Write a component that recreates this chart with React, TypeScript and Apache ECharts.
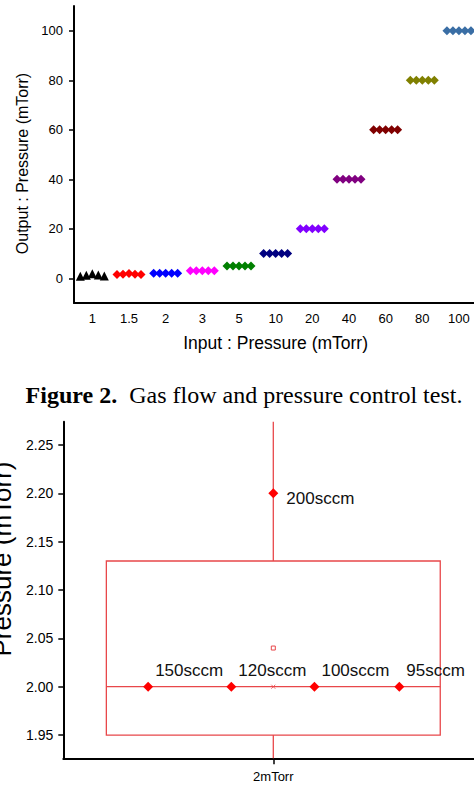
import React, { useEffect, useRef } from "react";
import * as echarts from "echarts";

// ---------- Top chart data ----------
const inputPressures = ["1", "1.5", "2", "3", "5", "10", "20", "40", "60", "80", "100"];
const outputReadings = [
  [0.8, 1.2, 1.8, 1.3, 0.9],
  [1.5, 1.6, 1.9, 1.6, 1.5],
  [2, 2, 2, 2, 2],
  [3, 3, 3, 3, 3],
  [5, 5, 5, 5, 5],
  [10, 10, 10, 10, 10],
  [20, 20, 20, 20, 20],
  [40, 40, 40, 40, 40],
  [60, 60, 60, 60, 60],
  [80, 80, 80, 80, 80],
  [100, 100, 100, 100, 100],
];
const inputColors = [
  "#000000", "#ff0000", "#0000ff", "#ff00ff", "#008000", "#000080",
  "#8000ff", "#800080", "#800000", "#808000", "#3a6ea5",
];
const topMajorTicks = [0, 20, 40, 60, 80, 100];
const topMinorTicks = [10, 30, 50, 70, 90];

// ---------- Bottom chart data ----------
const pressureSetting = ["2mTorr"];
const flowLabels = ["200sccm", "150sccm", "120sccm", "100sccm", "95sccm"];
const flowPressures = [2.2, 2.0, 2.0, 2.0, 2.0];
const flowJitter = [0, -0.298, -0.1, 0.098, 0.3];
// whisker low, box bottom, median, box top, whisker high
const boxStats = [1.9, 1.95, 2.0, 2.13, 2.3];
const meanPressure = 2.04;
const bottomMajorTicks = [1.95, 2.0, 2.05, 2.1, 2.15, 2.2, 2.25];
const bottomMinorTicks = [1.975, 2.025, 2.075, 2.125, 2.175, 2.225];

const SANS = "Arial, 'Liberation Sans', sans-serif";
const SERIF = "'Times New Roman', 'Liberation Serif', serif";
const BOX_RED = "#e8474a";

export default function App() {
  const ref = useRef<HTMLDivElement>(null);

  useEffect(() => {
    if (!ref.current) return;
    const chart = echarts.init(ref.current, undefined, { renderer: "svg" });

    const topSeries = outputReadings.map((vals, ci) => ({
      type: "scatter",
      name: inputPressures[ci],
      xAxisIndex: 0,
      yAxisIndex: 0,
      symbol: ci === 0 ? "triangle" : "diamond",
      symbolSize: [9, 9],
      itemStyle: { color: inputColors[ci], opacity: 1 },
      data: vals.map((v, k) => ({
        value: [ci, v],
        symbolOffset: [(k - 2) * 6, 0],
      })),
    }));

    const option: any = {
      animation: false,
      grid: [
        { left: 74, top: 6, right: -3.3, bottom: 497, containLabel: false, outerBoundsMode: "none" },
        { left: 63.3, top: 421.7, right: -9.3, bottom: 41.7, containLabel: false, outerBoundsMode: "none" },
      ],
      xAxis: [
        {
          type: "category",
          gridIndex: 0,
          data: inputPressures,
          boundaryGap: true,
          axisLine: { onZero: false, lineStyle: { color: "#000", width: 2 } },
          axisTick: { alignWithLabel: true, length: 5, lineStyle: { color: "#000", width: 1.5 } },
          axisLabel: { color: "#000", fontSize: 13, fontFamily: SANS, margin: 9 },
          name: "Input : Pressure (mTorr)",
          nameLocation: "middle",
          nameGap: 31,
          nameTextStyle: { color: "#000", fontSize: 17.5, fontFamily: SANS },
          splitLine: { show: false },
        },
        {
          type: "value",
          gridIndex: 1,
          min: -0.5,
          max: 0.5,
          axisLine: { show: true, onZero: false, lineStyle: { color: "#000", width: 2 } },
          axisTick: { show: true, length: 6, customValues: [0], lineStyle: { color: "#000", width: 1.5 } },
          axisLabel: {
            color: "#000",
            fontSize: 13,
            fontFamily: SANS,
            margin: 12,
            customValues: [0],
            formatter: () => pressureSetting[0],
          },
          splitLine: { show: false },
        },
      ],
      yAxis: [
        {
          type: "value",
          gridIndex: 0,
          min: -10,
          max: 110,
          axisLine: { show: true, onZero: false, lineStyle: { color: "#000", width: 2 } },
          axisTick: { show: true, length: 5, customValues: topMajorTicks, lineStyle: { color: "#000", width: 1.5 } },
          axisLabel: { color: "#000", fontSize: 13, fontFamily: SANS, margin: 11, customValues: topMajorTicks },
          splitLine: { show: false },
          name: "Output : Pressure (mTorr)",
          nameLocation: "middle",
          nameGap: 41,
          nameTextStyle: { color: "#000", fontSize: 16, fontFamily: SANS, padding: [0, 18, 0, 0] },
        },
        {
          type: "value",
          gridIndex: 0,
          min: -10,
          max: 110,
          axisLine: { show: false, onZero: false },
          axisTick: { show: true, length: 3, customValues: topMinorTicks, lineStyle: { color: "#000", width: 1 } },
          axisLabel: { show: false },
          splitLine: { show: false },
        },
        {
          type: "value",
          gridIndex: 1,
          min: 1.926,
          max: 2.274,
          axisLine: { show: true, onZero: false, lineStyle: { color: "#000", width: 2 } },
          axisTick: { show: true, length: 5, customValues: bottomMajorTicks, lineStyle: { color: "#000", width: 1.5 } },
          axisLabel: {
            color: "#000",
            fontSize: 14,
            fontFamily: SANS,
            margin: 10,
            customValues: bottomMajorTicks,
            formatter: (v: number) => v.toFixed(2),
          },
          splitLine: { show: false },
          name: "Pressure (mTorr)",
          nameLocation: "middle",
          nameGap: 44,
          nameTextStyle: { color: "#000", fontSize: 26, fontFamily: SANS, padding: [0, 0, 0, 62] },
        },
        {
          type: "value",
          gridIndex: 1,
          min: 1.926,
          max: 2.274,
          axisLine: { show: false, onZero: false },
          axisTick: { show: true, length: 3, customValues: bottomMinorTicks, lineStyle: { color: "#000", width: 1 } },
          axisLabel: { show: false },
          splitLine: { show: false },
        },
      ],
      series: [
        ...topSeries,
        {
          type: "custom",
          name: "box",
          xAxisIndex: 1,
          yAxisIndex: 2,
          data: [[0, ...boxStats, meanPressure]],
          encode: { x: 0, y: [1, 2, 3, 4, 5, 6] },
          z: 1,
          renderItem: (params: any, api: any) => {
            const c = api.value(0);
            const cx = api.coord([c, api.value(3)])[0];
            const band = api.size([1, 0])[0];
            const w = band * 0.795;
            const yv = (i: number) => api.coord([c, api.value(i)])[1];
            const cs = params.coordSys;
            const top = cs.y;
            const bottom = cs.y + cs.height;
            const yLow = Math.min(yv(1), bottom);
            const yQ1 = yv(2);
            const yMed = yv(3);
            const yQ3 = yv(4);
            const yHigh = Math.max(yv(5), top);
            const yMean = yv(6);
            const stroke = { stroke: BOX_RED, lineWidth: 1.3, fill: "none" };
            return {
              type: "group",
              children: [
                { type: "line", shape: { x1: cx, y1: yQ3, x2: cx, y2: yHigh }, style: stroke },
                { type: "line", shape: { x1: cx, y1: yQ1, x2: cx, y2: yLow }, style: stroke },
                { type: "rect", shape: { x: cx - w / 2, y: yQ3, width: w, height: yQ1 - yQ3 }, style: stroke },
                { type: "line", shape: { x1: cx - w / 2, y1: yMed, x2: cx + w / 2, y2: yMed }, style: stroke },
                { type: "rect", shape: { x: cx - 2, y: yMean - 2, width: 4, height: 4 }, style: { stroke: BOX_RED, lineWidth: 1, fill: "#fff" } },
                { type: "line", shape: { x1: cx - 2, y1: yMed - 2, x2: cx + 2, y2: yMed + 2 }, style: { stroke: BOX_RED, lineWidth: 0.8 } },
                { type: "line", shape: { x1: cx - 2, y1: yMed + 2, x2: cx + 2, y2: yMed - 2 }, style: { stroke: BOX_RED, lineWidth: 0.8 } },
              ],
            };
          },
        },
        {
          type: "scatter",
          name: "flows",
          xAxisIndex: 1,
          yAxisIndex: 2,
          symbol: "diamond",
          symbolSize: [10, 10],
          z: 3,
          itemStyle: { color: "#ff0000", opacity: 1 },
          data: flowPressures.map((v, i) => ({
            value: [flowJitter[i], v],
            name: flowLabels[i],
            label: {
              show: true,
              formatter: flowLabels[i],
              position: "right",
              distance: 5,
              offset: i === 0 ? [3, 5] : [-3, -16],
              color: "#111",
              fontSize: 17,
              fontFamily: SANS,
            },
          })),
        },
      ],
      graphic: [
        {
          type: "text",
          x: 244,
          y: 395,
          style: {
            text: "{b|Figure 2.}{n|  Gas flow and pressure control test.}",
            align: "center",
            verticalAlign: "middle",
            rich: {
              b: { fontFamily: SERIF, fontSize: 24, fontWeight: "bold", fill: "#000" },
              n: { fontFamily: SERIF, fontSize: 24, fill: "#000" },
            },
          },
        },
      ],
    };

    chart.setOption(option);
    return () => chart.dispose();
  }, []);

  return (
    <div
      ref={ref}
      style={{ position: "fixed", left: 0, top: 0, width: 474, height: 800, background: "#fff" }}
    />
  );
}
